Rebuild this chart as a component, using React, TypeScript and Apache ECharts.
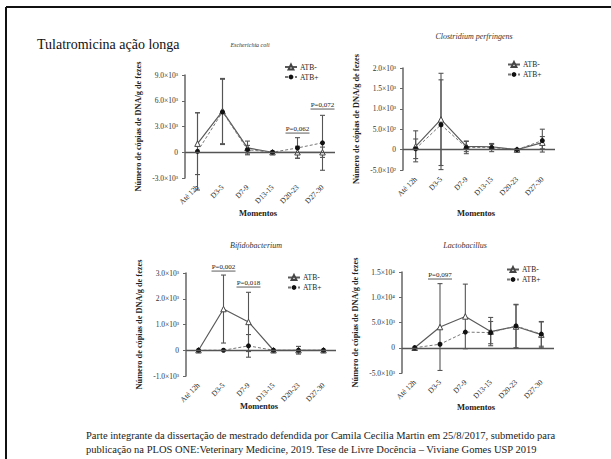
import React, { useEffect, useRef } from "react";
import * as echarts from "echarts";

const SERIF = "'Liberation Serif', 'Times New Roman', 'DejaVu Serif', serif";

const categories = ["Até 12h", "D3-5", "D7-9", "D13-15", "D20-23", "D27-30"];
const seriesNames = ["ATB-", "ATB+"];

// Escherichia coli
const ecoliNeg = [1000, 4800, 500, 0, 0, 0];
const ecoliNegErr = [3600, 3800, 800, 100, 700, 600];
const ecoliPos = [100, 4700, 300, 0, 500, 1100];
const ecoliPosErr = [4500, 3800, 500, 100, 1200, 3200];
const ecoliAxis = [-3000, 9000, 3000];
const ecoliNotes = [
  { cat: 4, y: 2700, label: "P=0,062" },
  { cat: 5, y: 5500, label: "P=0,072" },
];

// Clostridium perfringens
const clostNeg = [80, 740, 80, 70, 0, 170];
const clostNegErr = [380, 1130, 130, 60, 20, 150];
const clostPos = [20, 610, 50, 50, 0, 220];
const clostPosErr = [240, 1100, 150, 100, 20, 280];
const clostAxis = [-500, 2000, 500];
const clostNotes: { cat: number; y: number; label: string }[] = [];

// Bifidobacterium
const bifidoNeg = [0, 1600, 1100, 0, 0, 0];
const bifidoNegErr = [0, 1320, 1150, 0, 150, 0];
const bifidoPos = [0, 0, 170, 0, 0, 0];
const bifidoPosErr = [0, 0, 440, 0, 0, 0];
const bifidoAxis = [-1000, 3000, 1000];
const bifidoNotes = [
  { cat: 1, y: 3230, label: "P=0,002" },
  { cat: 2, y: 2610, label: "P=0,018" },
];

// Lactobacillus
const lactoNeg = [0, 4100, 6200, 3200, 4200, 2600];
const lactoNegErr = [0, 8600, 6400, 2800, 4300, 2600];
const lactoPos = [0, 700, 3100, 3000, 4300, 2700];
const lactoPosErr = [0, 0, 0, 2200, 4300, 2400];
const lactoAxis = [-5000, 15000, 5000];
const lactoNotes = [{ cat: 1, y: 14400, label: "P=0,097" }];

const titles = ["Escherichia coli", "Clostridium perfringens", "Bifidobacterium", "Lactobacillus"];
const yName = "Número de cópias de DNA/g de fezes";
const xName = "Momentos";
const heading = "Tulatromicina ação longa";
const footer = [
  "Parte integrante da dissertação de mestrado defendida por Camila Cecilia Martin em 25/8/2017, submetido para",
  "publicação na PLOS ONE:Veterinary Medicine, 2019. Tese de Livre Docência – Viviane Gomes USP 2019",
];

const panels = [
  { neg: ecoliNeg, negErr: ecoliNegErr, pos: ecoliPos, posErr: ecoliPosErr, axis: ecoliAxis, notes: ecoliNotes },
  { neg: clostNeg, negErr: clostNegErr, pos: clostPos, posErr: clostPosErr, axis: clostAxis, notes: clostNotes },
  { neg: bifidoNeg, negErr: bifidoNegErr, pos: bifidoPos, posErr: bifidoPosErr, axis: bifidoAxis, notes: bifidoNotes },
  { neg: lactoNeg, negErr: lactoNegErr, pos: lactoPos, posErr: lactoPosErr, axis: lactoAxis, notes: lactoNotes },
];

// layout (pixels)
const layout = [
  { grid: { left: 185, top: 75, width: 150, height: 103 }, title: [250, 45], titleSize: 6, legend: [284, 63], xname: [258, 213] },
  { grid: { left: 403, top: 68, width: 152, height: 102 }, title: [474, 36], titleSize: 8, legend: [507, 60.5], xname: [476, 213] },
  { grid: { left: 186, top: 273, width: 150, height: 103 }, title: [256, 245], titleSize: 8, legend: [287, 273.5], xname: [259, 406] },
  { grid: { left: 402, top: 272, width: 152, height: 101 }, title: [465, 245], titleSize: 8, legend: [506, 265.5], xname: [476, 407] },
];

const SUP: Record<string, string> = { "0": "⁰", "1": "¹", "2": "²", "3": "³", "4": "⁴", "5": "⁵" };
function fmtTick(v: number): string {
  if (v === 0) return "0";
  const e = Math.floor(Math.log10(Math.abs(v)) + 1e-9);
  const m = v / Math.pow(10, e);
  return m.toFixed(1) + "×10" + SUP[String(e)];
}

function errData(vals: number[], errs: number[]) {
  const out: number[][] = [];
  vals.forEach((v, j) => {
    if (errs[j] > 0) out.push([j, v - errs[j], v + errs[j]]);
  });
  return out;
}

const errRender = (params: any, api: any) => {
  const x = api.value(0);
  const p1 = api.coord([x, api.value(1)]);
  const p2 = api.coord([x, api.value(2)]);
  const cap = 2.5;
  const st = { stroke: "#555", lineWidth: 1.1 };
  return {
    type: "group",
    children: [
      { type: "line", shape: { x1: p1[0], y1: p1[1], x2: p2[0], y2: p2[1] }, style: st },
      { type: "line", shape: { x1: p1[0] - cap, y1: p1[1], x2: p1[0] + cap, y2: p1[1] }, style: st },
      { type: "line", shape: { x1: p2[0] - cap, y1: p2[1], x2: p2[0] + cap, y2: p2[1] }, style: st },
    ],
  };
};

export default function App() {
  const ref = useRef<HTMLDivElement>(null);
  useEffect(() => {
    if (!ref.current) return;
    const chart = echarts.init(ref.current, undefined, { renderer: "svg" });

    const series: any[] = [];
    panels.forEach((p, i) => {
      series.push({
        type: "custom",
        xAxisIndex: i,
        yAxisIndex: i,
        renderItem: errRender,
        data: errData(p.neg, p.negErr).concat(errData(p.pos, p.posErr)),
        encode: { x: 0, y: [1, 2] },
        clip: false,
        silent: true,
        z: 1,
      });
      series.push({
        name: seriesNames[0],
        type: "line",
        xAxisIndex: i,
        yAxisIndex: i,
        data: p.neg,
        symbol: "triangle",
        symbolSize: 5.5,
        lineStyle: { color: "#5a5a5a", width: 1.2 },
        itemStyle: { color: "#fff", borderColor: "#444", borderWidth: 1 },
        z: 3,
        markLine: {
          silent: true,
          symbol: ["none", "none"],
          label: { show: false },
          lineStyle: { color: "#555", width: 1.4, type: "solid" },
          data: [{ yAxis: 0 }],
        },
      });
      series.push({
        name: seriesNames[1],
        type: "line",
        xAxisIndex: i,
        yAxisIndex: i,
        data: p.pos,
        symbol: "circle",
        symbolSize: 5,
        lineStyle: { color: "#777", width: 1, type: [3, 2] },
        itemStyle: { color: "#111" },
        z: 4,
      });
      if (p.notes.length) {
        const notes = p.notes;
        series.push({
          type: "custom",
          xAxisIndex: i,
          yAxisIndex: i,
          clip: false,
          silent: true,
          z: 5,
          data: notes.map((n) => [n.cat, n.y]),
          renderItem: (params: any, api: any) => {
            const n = notes[params.dataIndex];
            const pt = api.coord([api.value(0), api.value(1)]);
            return {
              type: "group",
              children: [
                {
                  type: "text",
                  x: pt[0],
                  y: pt[1],
                  style: { text: n.label, fontSize: 7, fontFamily: SERIF, fill: "#222", align: "center", verticalAlign: "middle" },
                },
                {
                  type: "line",
                  shape: { x1: pt[0] - 12, y1: pt[1] + 4, x2: pt[0] + 12, y2: pt[1] + 4 },
                  style: { stroke: "#333", lineWidth: 0.8 },
                },
              ],
            };
          },
        });
      }
    });

    const graphic: any[] = [
      { type: "line", shape: { x1: 6, y1: 7, x2: 611, y2: 7 }, style: { stroke: "#111", lineWidth: 2 } },
      { type: "line", shape: { x1: 6, y1: 7, x2: 6, y2: 459 }, style: { stroke: "#111", lineWidth: 2 } },
      { type: "text", x: 37, y: 44, style: { text: heading, fontSize: 14, fontFamily: SERIF, fill: "#111", verticalAlign: "middle" } },
      { type: "text", x: 86, y: 435, style: { text: footer[0], fontSize: 10.5, fontFamily: SERIF, fill: "#222", verticalAlign: "middle" } },
      { type: "text", x: 86, y: 449, style: { text: footer[1], fontSize: 10.5, fontFamily: SERIF, fill: "#222", verticalAlign: "middle" } },
    ];
    layout.forEach((l, i) => {
      graphic.push({
        type: "text",
        x: l.title[0],
        y: l.title[1],
        style: { text: titles[i], fontSize: l.titleSize, fontStyle: "italic", fontFamily: SERIF, fill: "#333", align: "center", verticalAlign: "middle" },
      });
      graphic.push({
        type: "text",
        x: l.xname[0],
        y: l.xname[1],
        style: { text: xName, fontSize: 8.5, fontWeight: "bold", fontFamily: SERIF, fill: "#222", align: "center", verticalAlign: "middle" },
      });
    });

    chart.setOption({
      animation: false,
      backgroundColor: "#fff",
      grid: layout.map((l) => ({ ...l.grid, containLabel: false })),
      xAxis: panels.map((p, i) => ({
        type: "category",
        gridIndex: i,
        data: categories,
        position: "bottom",
        boundaryGap: true,
        axisLine: { show: false, onZero: false },
        axisTick: { show: false },
        splitLine: { show: false },
        axisLabel: { rotate: 45, interval: 0, fontSize: 7.5, fontFamily: SERIF, color: "#222", margin: 8 },
      })),
      yAxis: panels.map((p, i) => ({
        type: "value",
        gridIndex: i,
        min: p.axis[0],
        max: p.axis[1],
        interval: p.axis[2],
        axisLine: { show: true, onZero: false, lineStyle: { color: "#666", width: 1.5 } },
        axisTick: { show: true, length: 3, lineStyle: { color: "#666", width: 1 } },
        splitLine: { show: false },
        axisLabel: { formatter: fmtTick, fontSize: 7.5, fontFamily: SERIF, color: "#333", margin: 7 },
        name: yName,
        nameLocation: "middle",
        nameGap: 43,
        nameTextStyle: { fontSize: 8.3, fontWeight: "bold", fontFamily: SERIF, color: "#222" },
      })),
      legend: layout.map((l) => ({
        left: l.legend[0],
        top: l.legend[1],
        padding: 0,
        orient: "vertical",
        itemWidth: 12,
        itemHeight: 6,
        itemGap: 2,
        selectedMode: false,
        textStyle: { fontSize: 7.5, fontFamily: SERIF, color: "#222", padding: [0, 0, 0, -2] },
        data: seriesNames,
      })),
      series,
      graphic,
    });

    return () => chart.dispose();
  }, []);

  return (
    <div
      ref={ref}
      style={{ position: "fixed", left: 0, top: 0, width: 611, height: 459, background: "#fff" }}
    />
  );
}
